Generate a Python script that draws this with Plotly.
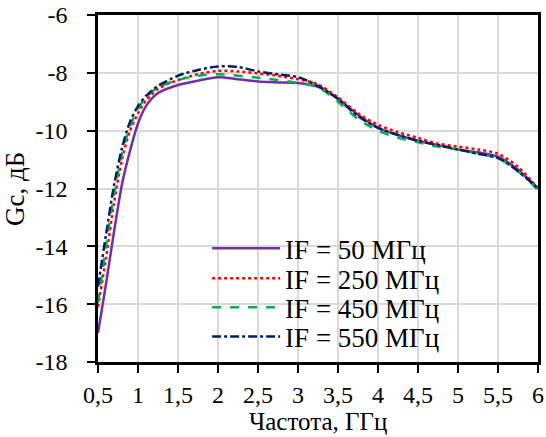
import plotly.graph_objects as go

freq = [0.5, 0.6, 0.7, 0.8, 0.9, 1.0, 1.1, 1.25, 1.5, 1.75, 2.0, 2.25, 2.5, 2.75,
        3.0, 3.25, 3.5, 3.75, 4.0, 4.25, 4.5, 4.75, 5.0, 5.25, 5.5, 5.75, 6.0]

gc_50 = [-17.0, -15.3, -13.5, -11.85, -10.7, -9.75, -9.15, -8.7, -8.42, -8.27, -8.15, -8.22, -8.3, -8.33,
         -8.35, -8.48, -8.9, -9.45, -9.9, -10.15, -10.35, -10.5, -10.65, -10.75, -10.9, -11.35, -12.0]
gc_250 = [-16.1, -14.4, -12.5, -11.0, -10.0, -9.4, -8.95, -8.55, -8.25, -8.05, -7.93, -7.95, -8.02, -8.1,
          -8.22, -8.4, -8.85, -9.4, -9.8, -10.05, -10.25, -10.45, -10.55, -10.65, -10.8, -11.25, -12.0]
gc_450 = [-15.95, -14.0, -12.2, -10.8, -9.85, -9.25, -8.85, -8.5, -8.25, -8.1, -8.05, -8.1, -8.17, -8.25,
          -8.35, -8.5, -9.0, -9.6, -10.0, -10.25, -10.4, -10.55, -10.65, -10.8, -10.95, -11.4, -12.05]
gc_550 = [-15.4, -13.6, -11.9, -10.6, -9.7, -9.15, -8.8, -8.45, -8.1, -7.9, -7.78, -7.8, -7.95, -8.05,
          -8.15, -8.45, -8.9, -9.5, -9.9, -10.15, -10.35, -10.5, -10.65, -10.8, -10.95, -11.4, -12.0]

series_names = ["IF = 50 МГц", "IF = 250 МГц", "IF = 450 МГц", "IF = 550 МГц"]
series_vals = [gc_50, gc_250, gc_450, gc_550]
colors = ["#7030A0", "#FF0000", "#00B050", "#002060"]
dashes = ["solid", "dot", "dash", "dashdot"]

x_ticks = [0.5, 1, 1.5, 2, 2.5, 3, 3.5, 4, 4.5, 5, 5.5, 6]
x_ticklabels = ["0,5", "1", "1,5", "2", "2,5", "3", "3,5", "4", "4,5", "5", "5,5", "6"]
y_ticks = [-18, -16, -14, -12, -10, -8, -6]
y_ticklabels = ["-18", "-16", "-14", "-12", "-10", "-8", "-6"]

x_title = "Частота, ГГц"
y_title = "Gc, дБ"

FONT = "Liberation Serif"
legend_ids = ["legend", "legend2", "legend3", "legend4"]
legend_tops = [0.397, 0.311, 0.227, 0.143]

fig = go.Figure()
for name, vals, c, d, lid in zip(series_names, series_vals, colors, dashes, legend_ids):
    fig.add_trace(go.Scatter(x=freq, y=vals, mode="lines", name=name, legend=lid,
                             line=dict(color=c, width=2.5, dash=d, shape="spline", smoothing=0.8)))

layout_legends = {}
for lid, ytop in zip(legend_ids, legend_tops):
    layout_legends[lid] = dict(x=0.248, y=ytop, xanchor="left", yanchor="top",
                               bgcolor="rgba(0,0,0,0)", font=dict(family=FONT, size=27, color="black"),
                               itemwidth=68)

fig.update_layout(
    width=546, height=437,
    margin=dict(l=98, r=8, t=15, b=75),
    plot_bgcolor="white", paper_bgcolor="white",
    font=dict(family=FONT, size=24, color="black"),
    showlegend=True,
    **layout_legends,
)
fig.update_xaxes(range=[0.5, 6], tickvals=x_ticks, ticktext=x_ticklabels,
                 tickfont=dict(family=FONT, size=24, color="black"),
                 showgrid=True, gridcolor="#D9D9D9", gridwidth=1.5,
                 showline=True, linecolor="black", linewidth=2.5, mirror=True,
                 ticks="outside", ticklen=8, tickwidth=2, tickcolor="black",
                 zeroline=False, ticklabelstandoff=1, automargin=False)
fig.update_yaxes(range=[-18, -6], tickvals=y_ticks, ticktext=y_ticklabels,
                 tickfont=dict(family=FONT, size=24, color="black"),
                 showgrid=True, gridcolor="#D9D9D9", gridwidth=1.5,
                 showline=True, linecolor="black", linewidth=2.5, mirror=True,
                 ticks="outside", ticklen=8, tickwidth=2, tickcolor="black",
                 zeroline=False, ticklabelstandoff=15, automargin=False)

fig.add_annotation(text=x_title, xref="paper", yref="paper", x=0.5, y=-0.172,
                   xanchor="center", yanchor="middle", showarrow=False,
                   font=dict(family=FONT, size=25, color="black"))
fig.add_annotation(text=y_title, xref="paper", yref="paper", x=-0.19, y=0.5,
                   xanchor="center", yanchor="middle", showarrow=False, textangle=-90,
                   font=dict(family=FONT, size=27, color="black"))

fig.write_html("out.html")
